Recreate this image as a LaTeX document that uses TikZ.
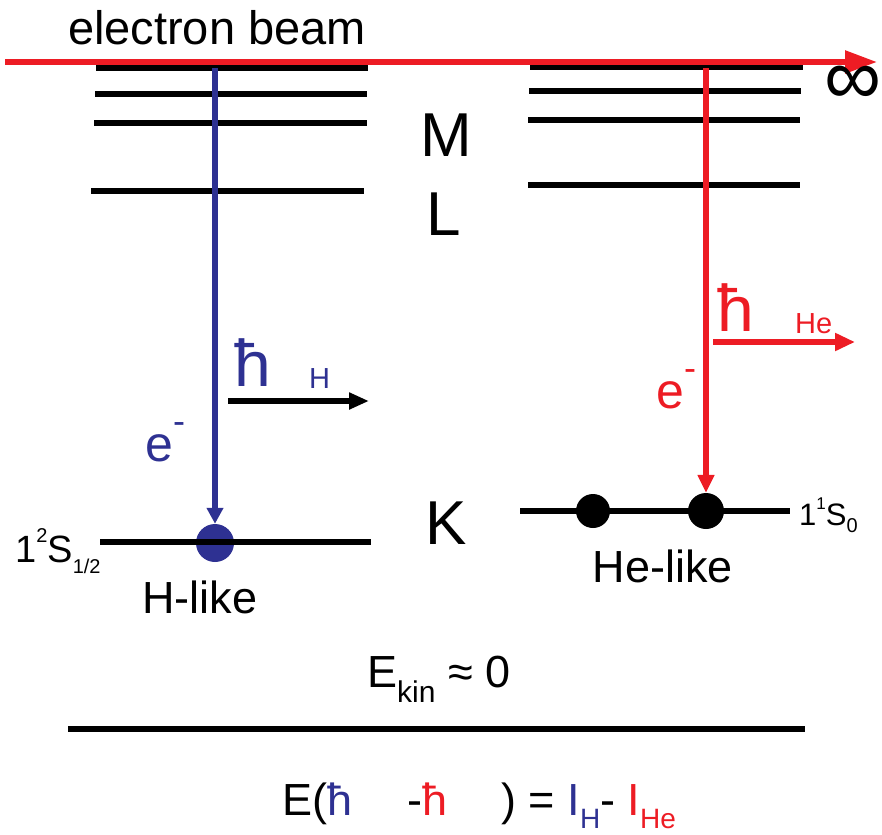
\documentclass[tikz,border=0pt]{standalone}
\usepackage{fontspec}
\setmainfont{Liberation Sans}
\usetikzlibrary{arrows.meta}
\definecolor{hblue}{RGB}{46,49,146}
\definecolor{hred}{RGB}{237,28,36}
\newcommand{\fsz}[1]{\fontsize{#1}{#1}\selectfont}
\tikzset{
  level/.style={line width=6pt},
  txt/.style={inner sep=0pt, anchor=base west},
  dot/.style={circle, inner sep=0pt, minimum size=#1},
}
\begin{document}
\begin{tikzpicture}[x=1pt,y=-1pt]
\useasboundingbox (0,0) rectangle (882,834);
% dots under the K levels
\node[dot=38pt, fill=hblue] (hdot) at (215,543) {};
\node[dot=34pt, fill=black] (hedota) at (593,511) {};
\node[dot=36pt, fill=black] (hedotb) at (706,511) {};
% levels
\foreach \y/\a/\b in {68/96/368, 94/95/367, 123/94/367, 191/91/364, 542/100/371}
  \draw[level] (\a,\y) -- (\b,\y);
\foreach \y/\a/\b in {67/530/803, 91/529/801, 120/528/800, 185/528/800, 511/520/790}
  \draw[level] (\a,\y) -- (\b,\y);
\draw[level] (68,729) -- (805,729);
% electron beam
\coordinate (beamL) at (5,62);
\coordinate (beamR) at (877,62);
\draw[hred, line width=5.5pt, -{Triangle[length=32pt,width=22pt]}] (beamL) -- (beamR);
\node[inner sep=0pt, anchor=base] (beam) at (217,45) {\fsz{47}electron beam};
\node[inner sep=0pt] (inf) at (853,85) {\fsz{80}∞};
% captured electrons
\coordinate (hstart) at (215,68);
\coordinate (hestart) at (706,68);
\draw[hblue, line width=5.5pt, -{Triangle[length=16pt,width=16pt]}] (hstart) -- (hdot.north);
\draw[hred, line width=5.5pt, -{Triangle[length=18pt,width=16pt]}] (hestart) -- (hedotb.north);
\node[txt, text=hblue] (eh) at (145,461) {\fsz{50}e\raisebox{28pt}{\fsz{36}-}};
\node[txt, text=hred] (ehe) at (656,408) {\fsz{50}e\raisebox{28pt}{\fsz{36}-}};
% photons
\coordinate (phA) at (228,401);
\coordinate (phB) at (369,401);
\coordinate (pheA) at (713,342);
\coordinate (pheB) at (855,342);
\draw[line width=5.5pt, -{Triangle[length=20pt,width=16pt]}] (phA) -- (phB);
\draw[hred, line width=5.5pt, -{Triangle[length=20pt,width=17pt]}] (pheA) -- (pheB);
\node[txt, text=hblue] (hnu) at (234,386) {\fsz{66}ħ};
\node[txt, text=hblue] (hnusub) at (309,388) {\fsz{29}H};
\node[txt, text=hred] (henu) at (717,331) {\fsz{66}ħ};
\node[txt, text=hred] (henusub) at (795,333) {\fsz{29}He};
% shell labels
\node[txt] (shM) at (420,157) {\fsz{62}M};
\node[txt] (shL) at (426,236) {\fsz{62}L};
\node[txt] (shK) at (425,544) {\fsz{62}K};
% states
\node[txt] (sH) at (15,562) {\fsz{38}1\raisebox{20pt}{\fsz{20}2}S\raisebox{-11pt}{\fsz{20}1/2}};
\node[txt] (sHe) at (799,525) {\fsz{31}1\raisebox{16pt}{\fsz{17}1}S\raisebox{-7pt}{\fsz{20}0}};
\node[inner sep=0pt, anchor=base] (hlike) at (200,613) {\fsz{45}H-like};
\node[inner sep=0pt, anchor=base] (helike) at (663,582) {\fsz{45}He-like};
% bottom
\node[txt] (ekin) at (367,687) {\fsz{45}E\raisebox{-15pt}{\fsz{30}kin} ≈ 0};
\node[txt] (eq) at (282,815) {\fsz{45}E(\textcolor{hblue}{ħ}\hspace{55pt}-\textcolor{hred}{ħ}\hspace{54pt}) = \textcolor{hblue}{I\raisebox{-13pt}{\fsz{28}H}}- \textcolor{hred}{I\raisebox{-13pt}{\fsz{28}He}}};
\end{tikzpicture}
\end{document}
